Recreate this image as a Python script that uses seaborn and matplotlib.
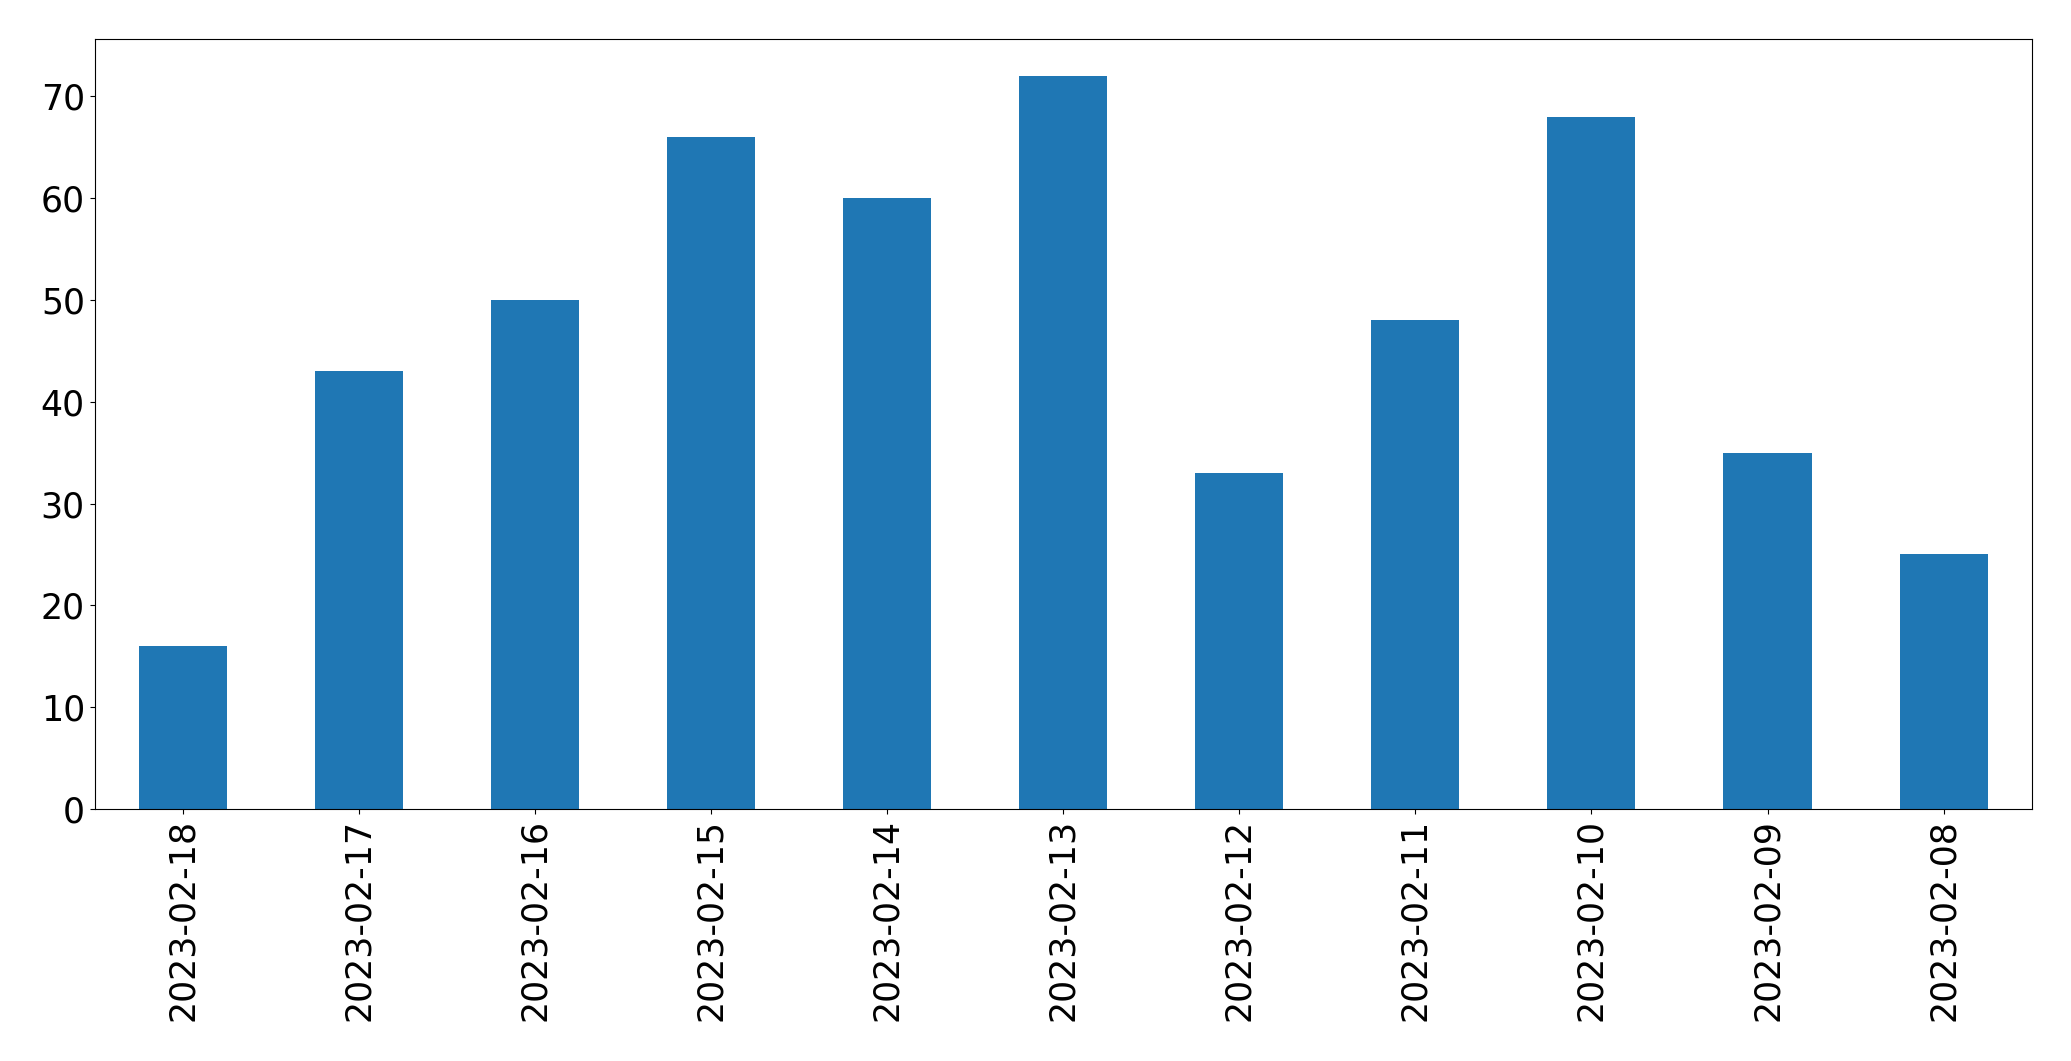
import matplotlib

matplotlib.use("Agg")
import matplotlib.pyplot as plt
import pandas as pd
import seaborn as sns

# Daily counts, newest first (as in the reference)
dates = [
    "2023-02-18", "2023-02-17", "2023-02-16", "2023-02-15", "2023-02-14",
    "2023-02-13", "2023-02-12", "2023-02-11", "2023-02-10", "2023-02-09",
    "2023-02-08",
]
counts = [16, 43, 50, 66, 60, 72, 33, 48, 68, 35, 25]

BAR_COLOR = "#1f77b4"
FONT_SIZE = 25

df = pd.DataFrame({"date": dates, "count": counts})

fig = plt.figure(figsize=(20.71, 10.61), dpi=100)
ax = fig.add_axes([0.0457, 0.2375, 0.9353, 0.7255])

sns.barplot(
    data=df, x="date", y="count", order=dates,
    color=BAR_COLOR, saturation=1, width=0.5, ax=ax,
)

ax.set_xlim(-0.5, len(dates) - 0.5)
ax.set_ylim(0, max(counts) * 1.05)
ax.set_xlabel("")
ax.set_ylabel("")
ax.tick_params(axis="both", labelsize=FONT_SIZE)
ax.tick_params(axis="x", labelrotation=90)

fig.savefig("out.png", dpi=100)
